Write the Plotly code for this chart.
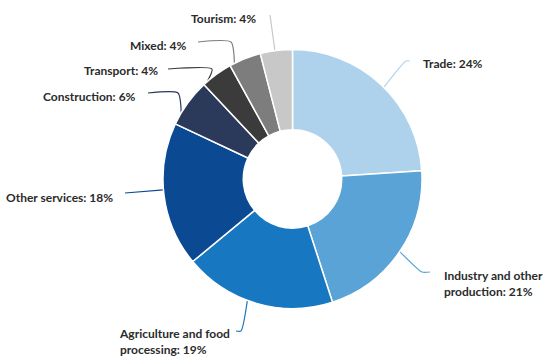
import math
import plotly.graph_objects as go

# Sector shares (%)
sectors = ["Trade", "Industry and other production", "Agriculture and food processing",
           "Other services", "Construction", "Transport", "Mixed", "Tourism"]
shares = [24, 21, 19, 18, 6, 4, 4, 4]

# Label text as displayed (line breaks for the long names)
label_text = ["Trade: 24%", "Industry and other<br>production: 21%",
              "Agriculture and food<br>processing: 19%", "Other services: 18%",
              "Construction: 6%", "Transport: 4%", "Mixed: 4%", "Tourism: 4%"]

colors = ["#afd2ec", "#5aa3d6", "#1877c1", "#0b4a93", "#2b3a5b",
          "#3b3b3b", "#7d7d7d", "#c8c8c8"]

W, H = 544, 356
CX, CY, R = 292.5, 179.0, 129.5   # donut centre / radius in pixels
HOLE = 0.38

# Label placement (pixel coords): text anchor, alignment
label_pos = [(421, 63, "left"), (442, 283, "left"), (117, 341, "left"),
             (115, 197, "right"), (138, 96, "right"), (160, 70, "right"),
             (188, 45, "right"), (258, 18, "right")]
# Leader end next to each label and the length of its flat stub (towards the donut)
leader_end = [(410, 61), (430, 272), (236, 331), (125, 193),
              (148, 93), (168, 69), (198, 42), (270, 15)]
stub_len = [4, 8, 5, 0, 30, 44, 33, 0]

fig = go.Figure()

fig.add_trace(go.Pie(
    labels=sectors, values=shares, sort=False, direction="clockwise", rotation=0,
    hole=HOLE, textinfo="none", hoverinfo="label+percent",
    marker=dict(colors=colors, line=dict(color="white", width=1.5)),
    domain=dict(x=[(CX - R) / W, (CX + R) / W],
                y=[(H - CY - R) / H, (H - CY + R) / H]),
    showlegend=False,
))

# Leader lines: attach at the point of each slice's rim closest to its label
total = sum(shares)
cum = 0
for i, v in enumerate(shares):
    a0 = cum / total * 360
    a1 = (cum + v) / total * 360
    cum += v
    ex, ey = leader_end[i]
    ang = math.degrees(math.atan2(ex - CX, CY - ey)) % 360
    pad = 0.15 * (a1 - a0)
    ang = min(max(ang, a0 + pad), a1 - pad)
    t = math.radians(ang)
    sx, sy = CX + R * math.sin(t), CY - R * math.cos(t)
    dirx = 1 if sx > ex else -1
    kx = ex + dirx * stub_len[i]
    xs, ys = [sx, kx, ex], [sy, ey, ey]
    fig.add_trace(go.Scatter(
        x=xs, y=ys, mode="lines",
        line=dict(color=colors[i], width=1.2, shape="spline", smoothing=0.6),
        hoverinfo="skip", showlegend=False, xaxis="x", yaxis="y",
    ))

annotations = []
for txt, (x, y, side) in zip(label_text, label_pos):
    annotations.append(dict(
        x=x, y=y, xref="x", yref="y", text=txt, showarrow=False,
        xanchor=side, yanchor="middle", align="left",
        font=dict(family="Lato", size=12, color="#2b2b2b", weight="bold"),
    ))

fig.update_layout(
    width=W, height=H, margin=dict(l=0, r=0, t=0, b=0),
    paper_bgcolor="white", plot_bgcolor="rgba(0,0,0,0)",
    xaxis=dict(range=[0, W], visible=False, domain=[0, 1], fixedrange=True),
    yaxis=dict(range=[H, 0], visible=False, domain=[0, 1], fixedrange=True),
    annotations=annotations,
)

fig.write_html("out.html")
